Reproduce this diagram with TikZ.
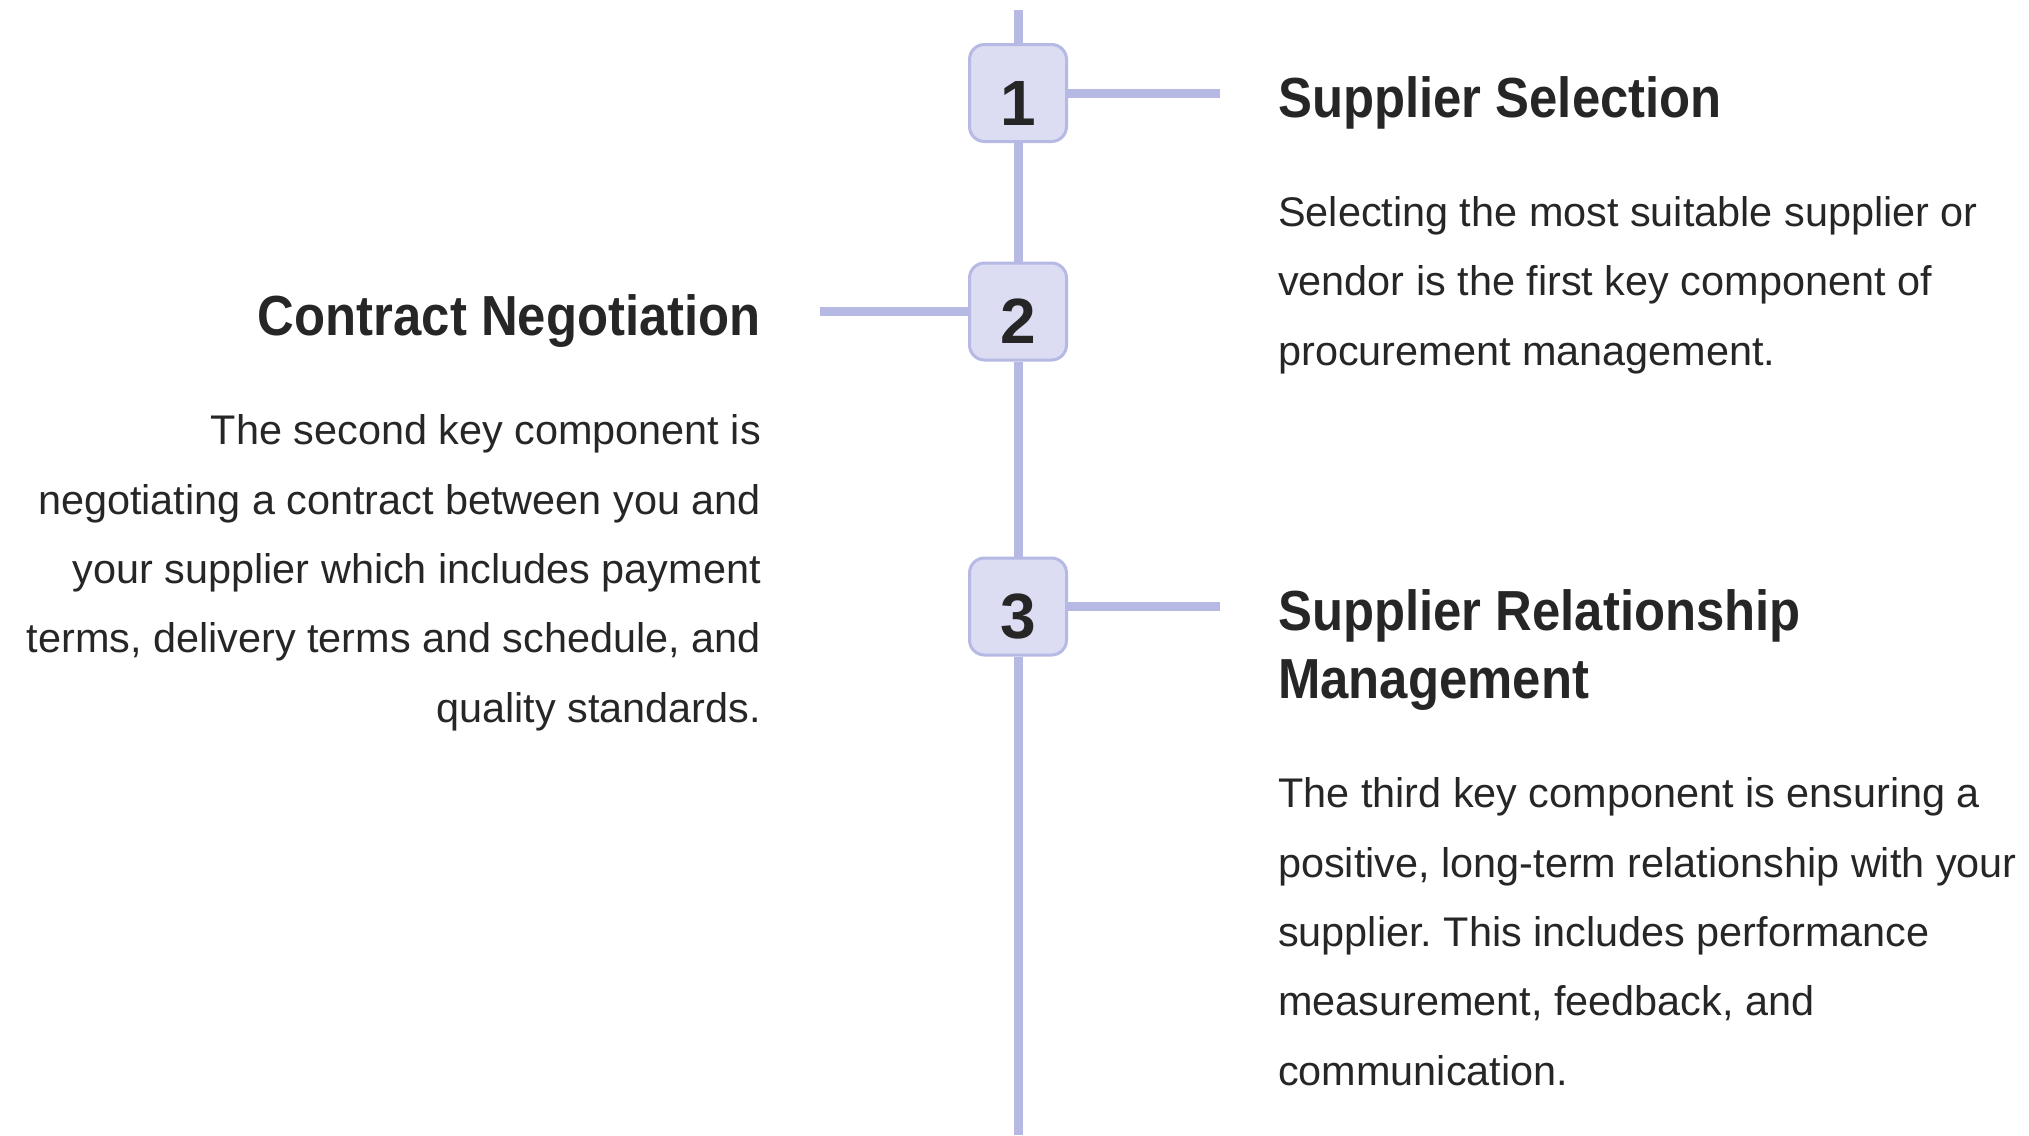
\documentclass[tikz,border=0pt]{standalone}
\usepackage{fontspec}
\setmainfont{Liberation Sans}
\newfontfamily\headfont[FakeStretch=0.9]{Liberation Sans}
\frenchspacing
\usetikzlibrary{positioning}
\definecolor{railcol}{HTML}{B6B9E3}
\definecolor{boxfill}{HTML}{DCDDF3}
\definecolor{inkcol}{HTML}{262626}
\tikzset{stepbox/.style = {draw=railcol, fill=boxfill, line width=3pt,
                           rounded corners=15pt, minimum size=97pt, inner sep=0pt,
                           text height=64pt, text depth=0pt, text=inkcol,
                           font=\fontsize{64}{64}\selectfont\bfseries},
         heading/.style = {inner sep=0pt, text=inkcol,
                           font=\fontsize{56.5}{68}\headfont\bfseries},
         body/.style    = {inner sep=0pt, text=inkcol,
                           font=\fontsize{41.4}{69.3}\selectfont},
         rail/.style    = {draw=railcol, line width=9pt}}

\begin{document}
\begin{tikzpicture}[x=1pt, y=-1pt]
      \useasboundingbox (0, 0) rectangle (2029, 1135);
      \node [stepbox] (s1) at (1018, 93) {1};
      \node [stepbox] (s2) at (1018, 311.5) {2};
      \node [stepbox] (s3) at (1018, 606.5) {3};
      \coordinate (top) at (1018, 10);
      \coordinate (bottom) at (1018, 1135);
      \coordinate (tip1) at (1220, 93);
      \coordinate (tip2) at (820, 311.5);
      \coordinate (tip3) at (1220, 606.5);
      \draw [rail] (top) -- (s1) -- (s2) -- (s3) -- (bottom);
      \draw [rail] (s1) -- (tip1);
      \draw [rail] (s2) -- (tip2);
      \draw [rail] (s3) -- (tip3);
      % multi-line nodes sit on the baseline of their last line
      \node [heading, anchor = base west] (head1) at (1278, 117) {Supplier Selection};
      \node [body, anchor = base west, align = left] (text1) at (1278, 365)
            {Selecting the most suitable supplier or\\vendor is the first key component of\\procurement management.};
      \node [heading, anchor = base east] (head2) at (761, 335) {Contract Negotiation};
      \node [body, anchor = base east, align = right] (text2) at (761, 722)
            {The second key component is\\negotiating a contract between you and\\your supplier which includes payment\\terms, delivery terms and schedule, and\\quality standards.};
      \node [heading, anchor = base west, align = left] (head3) at (1278, 698) {Supplier Relationship\\Management};
      \node [body, anchor = base west, align = left] (text3) at (1278, 1085)
            {The third key component is ensuring a\\positive, long-term relationship with your\\supplier. This includes performance\\measurement, feedback, and\\communication.};
    \end{tikzpicture}
\end{document}
